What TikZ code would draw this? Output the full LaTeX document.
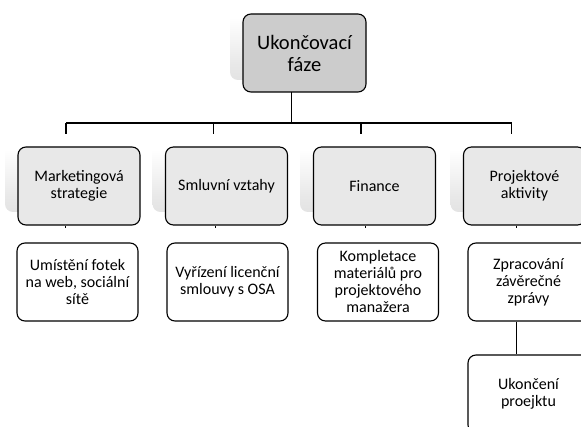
\documentclass[tikz,border=0pt]{standalone}
\usepackage{fontspec}
\setmainfont{Carlito}
\pgfdeclareverticalshading{softshadow}{100bp}{color(0bp)=(black!11); color(25bp)=(black!11); color(35bp)=(black!9); color(55bp)=(black!3); color(65bp)=(white); color(100bp)=(white)}
\begin{document}
\begin{tikzpicture}[x=1pt,y=-1pt,
  box/.style={draw=black, line width=1.1pt, rounded corners=8pt, minimum width=122pt, minimum height=78pt, align=center, inner sep=2pt, font=\fontsize{16}{17}\selectfont},
  lvltwo/.style={box, fill=gray!18},
  topbox/.style={box, fill=gray!40, minimum width=123pt, font=\fontsize{20.5}{22}\selectfont},
  leaf/.style={box, fill=white, minimum width=121pt},
  shadowbox/.style={rounded corners=8pt, minimum width=122pt, minimum height=78pt, shading=softshadow, draw=none, inner sep=0pt},
  conn/.style={draw=black, line width=1.1pt}
]
\useasboundingbox (0,0) rectangle (581,427);
\clip (0,0) rectangle (581,427);
% shadows
\node[shadowbox, minimum width=123pt] (s0) at (291.5,41) {};
\node[shadowbox] (s1) at (66,173) {};
\node[shadowbox] (s2) at (213.5,173) {};
\node[shadowbox] (s3) at (361,173) {};
\node[shadowbox] (s4) at (511.5,173) {};
% connectors
\coordinate (bus) at (0,123);
\coordinate (k1) at (65.5,228);
\coordinate (k2) at (215.5,228);
\coordinate (k3) at (365.5,228);
\coordinate (k4) at (516.5,228);
\draw[conn] (s0.center |- 0,92) -- (s0.center |- bus);
\draw[conn] (s1.north |- bus) -- (s4.north |- bus);
\foreach \i in {1,2,3,4} { \draw[conn] (s\i.north |- bus) -- (s\i.north); }
% top
\node[topbox] (t0) at (304.5,53) {Ukončovací\\fáze};
% level 2
\node[lvltwo] (f1) at (79,186) {Marketingová\\strategie};
\node[lvltwo] (f2) at (226.5,186) {Smluvní vztahy};
\node[lvltwo] (f3) at (374.5,186) {Finance};
\node[lvltwo] (f4) at (524.5,186) {Projektové\\aktivity};
\foreach \i in {1,2,3,4} { \draw[conn] (f\i.south -| k\i) -- (k\i); }
% level 3
\node[leaf] (l1) at (77.5,282) {Umístění fotek\\na web, sociální\\sítě};
\node[leaf] (l2) at (227.5,282) {Vyřízení licenční\\smlouvy s OSA};
\node[leaf] (l3) at (378,282) {Kompletace\\materiálů pro\\projektového\\manažera};
\node[leaf] (l4) at (528.5,282) {Zpracování\\závěrečné\\zprávy};
\node[leaf] (l5) at (528.5,394) {Ukončení\\proejktu};
\draw[conn] (l4.south -| k4) -- (l5.north -| k4);
\end{tikzpicture}
\end{document}
